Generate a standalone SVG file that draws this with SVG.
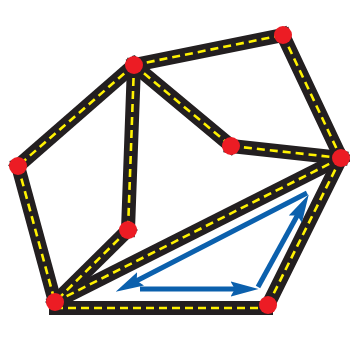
<svg xmlns="http://www.w3.org/2000/svg" width="350" height="338" viewBox="0 0 350 338">
<style>
.road{stroke:#231f20;stroke-width:14;stroke-linecap:square;fill:none}
.dash{stroke:#fff200;stroke-width:2.6;stroke-dasharray:8 5;fill:none}
.node{fill:#ec1c24}
.arr{stroke:#0b60ad;stroke-width:5;fill:none;marker-end:url(#ah)}
</style>
<defs>
<marker id="ah" markerUnits="userSpaceOnUse" markerWidth="28" markerHeight="16" refX="6" refY="7" orient="auto" viewBox="0 0 26 14">
<path d="M0,0 L26,7 L0,14 L4,7 z" fill="#0b60ad"/>
</marker>
</defs>
<rect width="350" height="338" fill="#fff"/>
<g id="connectors">
<g id="roads-bg">
<line class="road" x1="134" y1="65" x2="283" y2="35"/>
<line class="road" x1="283" y1="35" x2="341" y2="158"/>
<line class="road" x1="134" y1="65" x2="18" y2="166"/>
<line class="road" x1="134" y1="65" x2="231" y2="146"/>
<line class="road" x1="231" y1="146" x2="341" y2="158"/>
<line class="road" x1="134" y1="65" x2="128" y2="230"/>
<line class="road" x1="18" y1="166" x2="55" y2="302"/>
<line class="road" x1="128" y1="230" x2="55" y2="302"/>
<line class="road" x1="55" y1="302" x2="341" y2="158"/>
<line class="road" x1="341" y1="158" x2="268" y2="305"/>
<line class="road" x1="56" y1="308" x2="266" y2="308"/>
</g>
<g id="roads-fg">
<line class="dash" x1="134" y1="65" x2="283" y2="35"/>
<line class="dash" x1="283" y1="35" x2="341" y2="158"/>
<line class="dash" x1="134" y1="65" x2="18" y2="166"/>
<line class="dash" x1="134" y1="65" x2="231" y2="146"/>
<line class="dash" x1="231" y1="146" x2="341" y2="158"/>
<line class="dash" x1="134" y1="65" x2="128" y2="230"/>
<line class="dash" x1="18" y1="166" x2="55" y2="302"/>
<line class="dash" x1="128" y1="230" x2="55" y2="302"/>
<line class="dash" x1="55" y1="302" x2="341" y2="158"/>
<line class="dash" x1="341" y1="158" x2="268" y2="305"/>
<line class="dash" x1="55" y1="308" x2="268" y2="308"/>
</g>
<g id="arrows">
<line class="arr" x1="307" y1="193" x2="134.8" y2="281.8"/>
<line class="arr" x1="140" y1="289" x2="237" y2="289"/>
<line class="arr" x1="258" y1="287" x2="298.4" y2="213.5"/>
</g>
</g>
<g id="node-A"><circle class="node" cx="134" cy="65" r="9"/></g>
<g id="node-B"><circle class="node" cx="283" cy="35" r="9"/></g>
<g id="node-C"><circle class="node" cx="18" cy="166" r="9"/></g>
<g id="node-D"><circle class="node" cx="231" cy="146" r="9"/></g>
<g id="node-E"><circle class="node" cx="341" cy="158" r="9"/></g>
<g id="node-F"><circle class="node" cx="128" cy="230" r="9"/></g>
<g id="node-G"><circle class="node" cx="55" cy="302" r="9"/></g>
<g id="node-H"><circle class="node" cx="268" cy="305" r="9"/></g>
</svg>
